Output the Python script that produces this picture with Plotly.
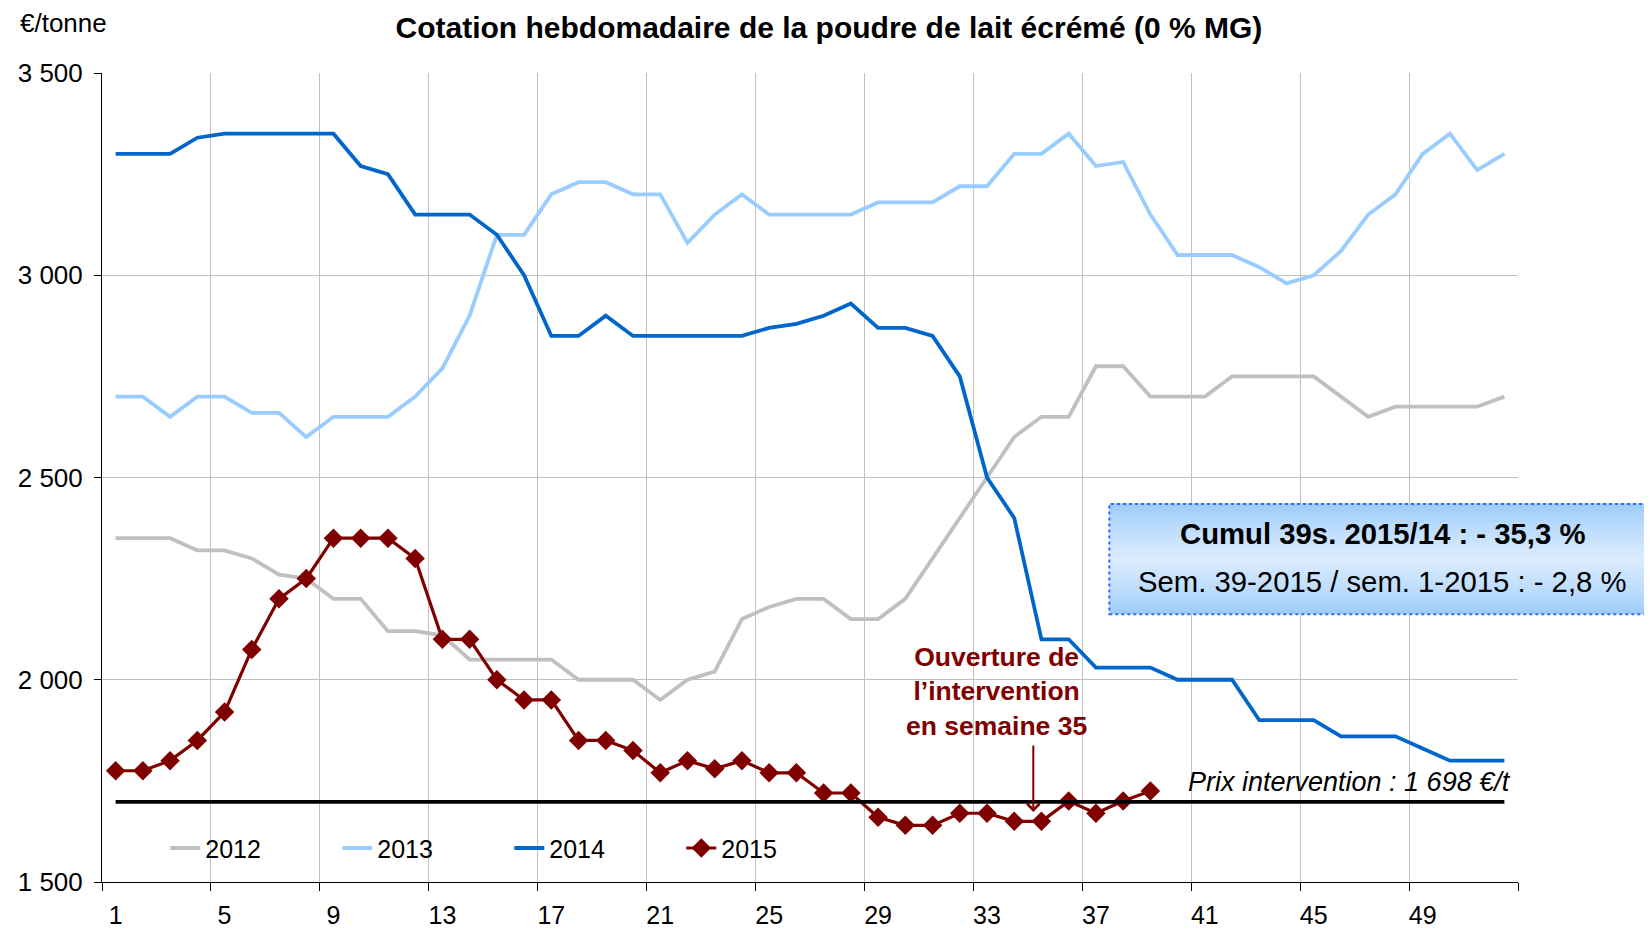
import plotly.graph_objects as go

# weekly quotations (EUR/tonne), weeks 1..52
weeks = list(range(1, 53))
y2012 = [2350, 2350, 2350, 2320, 2320, 2300, 2260, 2250, 2200, 2200,
         2120, 2120, 2110, 2050, 2050, 2050, 2050, 2000, 2000, 2000,
         1950, 2000, 2020, 2150, 2180, 2200, 2200, 2150, 2150, 2200,
         2300, 2400, 2500, 2600, 2650, 2650, 2775, 2775, 2700, 2700,
         2700, 2750, 2750, 2750, 2750, 2700, 2650, 2675, 2675, 2675,
         2675, 2700]
y2013 = [2700, 2700, 2650, 2700, 2700, 2660, 2660, 2600, 2650, 2650,
         2650, 2700, 2770, 2900, 3100, 3100, 3200, 3230, 3230, 3200,
         3200, 3080, 3150, 3200, 3150, 3150, 3150, 3150, 3180, 3180,
         3180, 3220, 3220, 3300, 3300, 3350, 3270, 3280, 3150, 3050,
         3050, 3050, 3020, 2980, 3000, 3060, 3150, 3200, 3300, 3350,
         3260, 3300]
y2014 = [3300, 3300, 3300, 3340, 3350, 3350, 3350, 3350, 3350, 3270,
         3250, 3150, 3150, 3150, 3100, 3000, 2850, 2850, 2900, 2850,
         2850, 2850, 2850, 2850, 2870, 2880, 2900, 2930, 2870, 2870,
         2850, 2750, 2500, 2400, 2100, 2100, 2030, 2030, 2030, 2000,
         2000, 2000, 1900, 1900, 1900, 1860, 1860, 1860, 1830, 1800,
         1800, 1800]
y2015 = [1775, 1775, 1800, 1850, 1920, 2075, 2200, 2250, 2350, 2350,
         2350, 2300, 2100, 2100, 2000, 1950, 1950, 1850, 1850, 1825,
         1770, 1800, 1780, 1800, 1770, 1770, 1720, 1720, 1660, 1640,
         1640, 1670, 1670, 1650, 1650, 1700, 1670, 1700, 1725]
prix_intervention = 1698

x_ticks = list(range(1, 53, 4))
grid_weeks = [w + 0.5 for w in range(0, 53, 4)]

FONT = "Liberation Sans, Arial, sans-serif"

fig = go.Figure()
fig.add_trace(go.Scatter(x=weeks, y=y2012, mode='lines', name='2012',
                         line=dict(color='#c0c0c0', width=3.8)))
fig.add_trace(go.Scatter(x=weeks, y=y2013, mode='lines', name='2013',
                         line=dict(color='#99ccff', width=3.8)))
fig.add_trace(go.Scatter(x=weeks, y=y2014, mode='lines', name='2014',
                         line=dict(color='#0066cc', width=3.8)))
fig.add_trace(go.Scatter(x=weeks[:len(y2015)], y=y2015, mode='lines+markers', name='2015',
                         line=dict(color='#800000', width=3.2),
                         marker=dict(symbol='diamond', size=15, color='#800000')))
fig.add_trace(go.Scatter(x=weeks, y=[prix_intervention] * len(weeks), mode='lines',
                         showlegend=False, line=dict(color='#000000', width=3.8)))

# white area behind the legend (hides the grid there)
fig.add_shape(type='rect', xref='paper', yref='paper', x0=0.002, x1=0.659,
              y0=0.007, y1=0.0742, fillcolor='white', line_width=0, layer='between')

# gradient box
n_bands = 30
top, mid = (155, 203, 250), (220, 237, 255)
y0b, y1b = 0.3311, 0.4672
for i in range(n_bands):
    t = (i + 0.5) / n_bands
    k = (1 - abs(2 * t - 1)) ** 0.8
    c = tuple(int(top[j] + (mid[j] - top[j]) * k) for j in range(3))
    fig.add_shape(type='rect', xref='paper', yref='paper', x0=0.7114, x1=1.1,
                  y0=y0b + (y1b - y0b) * i / n_bands,
                  y1=y0b + (y1b - y0b) * (i + 1) / n_bands + 0.001,
                  fillcolor='rgb(%d,%d,%d)' % c, line_width=0, layer='above')
fig.add_shape(type='rect', xref='paper', yref='paper', x0=0.7114, x1=1.1,
              y0=y0b, y1=y1b, line=dict(color='#3366ff', width=2, dash='dot'),
              layer='above')

fig.add_annotation(text='<b>Cumul 39s. 2015/14 : - 35,3 %</b>', xref='paper', yref='paper',
                   x=0.904, y=0.4313, xanchor='center', yanchor='middle', showarrow=False,
                   font=dict(family=FONT, size=29.3, color='black'))
fig.add_annotation(text='Sem. 39-2015 / sem. 1-2015 : - 2,8 %', xref='paper', yref='paper',
                   x=0.904, y=0.3711, xanchor='center', yanchor='middle', showarrow=False,
                   font=dict(family=FONT, size=29.3, color='black'))
fig.add_annotation(text='<i>Prix intervention : 1 698 €/t</i>', xref='paper', yref='paper',
                   x=0.9965, y=0.1233, xanchor='right', yanchor='middle', showarrow=False,
                   font=dict(family=FONT, size=27, color='black'))
fig.add_annotation(text='<b>Ouverture de<br>l’intervention<br>en semaine 35</b>',
                   xref='paper', yref='paper', x=0.6316, y=0.2359,
                   xanchor='center', yanchor='middle', showarrow=False,
                   font=dict(family=FONT, size=26.5, color='#800000'))
fig.add_annotation(text='', xref='paper', yref='paper', x=0.6577, y=0.0866,
                   ax=0, ay=-68, showarrow=True, arrowhead=4, arrowsize=1.2,
                   arrowwidth=2, arrowcolor='#800000')
fig.add_annotation(text='€/tonne', xref='paper', yref='paper', x=-0.0593, y=1.0618,
                   xanchor='left', yanchor='middle', showarrow=False,
                   font=dict(family=FONT, size=26, color='black'))

# the page body adds 8 px around the figure
fig.update_layout(
    width=1636, height=921,
    margin=dict(l=94, r=126, t=65, b=47),
    paper_bgcolor='white', plot_bgcolor='white',
    separators=', ',
    font=dict(family=FONT, size=25, color='black'),
    title=dict(text='<b>Cotation hebdomadaire de la poudre de lait écrémé (0 % MG)</b>',
               x=0.5018, xref='container', y=1 - 19 / 921, yref='container',
               xanchor='center', yanchor='middle',
               font=dict(family=FONT, size=30, color='black')),
    legend=dict(orientation='h', x=0.0447, y=0.0417, xanchor='left', yanchor='middle',
                bgcolor='rgba(0,0,0,0)', entrywidth=127, entrywidthmode='pixels',
                font=dict(family=FONT, size=25, color='black')),
    showlegend=True,
)
fig.update_xaxes(range=[0.5, 52.5], tickvals=x_ticks, ticks='', showgrid=False,
                 showline=True, linecolor='black', linewidth=1, zeroline=False,
                 ticklabelstandoff=11, automargin=False,
                 minor=dict(tickvals=grid_weeks, ticks='outside', ticklen=8,
                            tickcolor='black', showgrid=True, gridcolor='#c0c0c0',
                            gridwidth=1))
fig.update_yaxes(range=[1500, 3500], tickvals=[1500, 2000, 2500, 3000, 3500],
                 tickformat=',d', ticks='outside', ticklen=7, tickcolor='black',
                 showgrid=True, gridcolor='#c0c0c0', gridwidth=1,
                 showline=True, linecolor='black', linewidth=1, zeroline=False,
                 ticklabelstandoff=6, automargin=False,
                 tickfont=dict(family=FONT, size=26, color='black'))

fig.write_html("out.html")
